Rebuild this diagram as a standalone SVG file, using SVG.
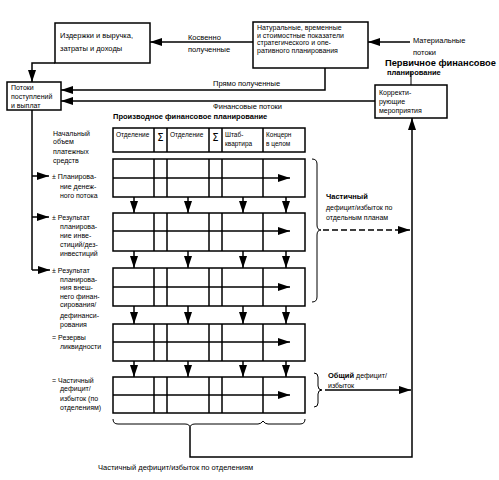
<svg xmlns="http://www.w3.org/2000/svg" width="499" height="480" viewBox="0 0 499 480">
<defs>
<marker id="ah" markerUnits="userSpaceOnUse" markerWidth="12" markerHeight="8" refX="12" refY="4" orient="auto"><path d="M0,0 L12,4 L0,8 z" fill="#000"/></marker>
<style>
.t{font-family:"Liberation Sans",Arial,sans-serif;font-size:7.5px;fill:#000}
.s{font-family:"Liberation Sans",Arial,sans-serif;font-size:7px;fill:#000}
.h{font-family:"Liberation Sans",Arial,sans-serif;font-size:6.5px;fill:#000}
.sg{font-family:"DejaVu Sans",sans-serif;font-size:10px;fill:#000;text-anchor:middle}
.b{font-family:"Liberation Sans",Arial,sans-serif;font-weight:bold;fill:#000}
.box{fill:#fff;stroke:#000;stroke-width:1.5}
.ln{fill:none;stroke:#000;stroke-width:1.5}
.th{fill:none;stroke:#000;stroke-width:1}
.ar{fill:none;stroke:#000;stroke-width:1.5;marker-end:url(#ah)}
</style>
</defs>
<rect width="499" height="480" fill="#fff"/>

<g id="connectors">
<path class="ar" d="M253,42 H150"/>
<path class="ar" d="M410,42 H368"/>
<path class="ar" d="M55,63 H32 V82"/>
<path class="ar" d="M325,68 V90 H61"/>
<path class="ar" d="M375,101 H61"/>
<path class="th" d="M411,72 V85"/>
<path class="ln" d="M32,110 V270"/>
<path class="ar" d="M32,176 H49"/>
<path class="ar" d="M32,217 H49"/>
<path class="ar" d="M32,270 H50"/>
<path class="th" d="M312,159 q5,0 5,5 V225 q0,5 4,5 q-4,0 -4,5 V297 q0,5 -5,5"/>
<path class="ar" d="M323,230 H410" stroke-dasharray="6,3"/>
<path class="th" d="M314,373 q4,0 4,4 V386 q0,4 4,4 q-4,0 -4,4 V403 q0,4 -4,4"/>
<path class="ar" d="M325,390 H411"/>
<path class="th" d="M113,419 q0,5 5,5 H185 q5,0 5,4 q0,-4 5,-4 H258 q3,0 5,-3 q2,3 5,3 H300 q5,0 5,-5"/>
<path class="ln" d="M190,428 V457 H412 V118" marker-end="url(#ah)"/>
</g>

<g id="n-izderzhki">
<rect class="box" x="55" y="23" width="95" height="40"/>
<text class="t" x="60" y="38">Издержки и выручка,</text>
<text class="t" x="60" y="51">затраты и доходы</text>
</g>

<g id="n-pokazateli">
<rect class="box" x="253" y="22" width="115" height="46"/>
<text class="s" x="257" y="30">Натуральные, временные</text>
<text class="s" x="257" y="37.5">и стоимостные показатели</text>
<text class="s" x="257" y="45">стратегического и опе-</text>
<text class="s" x="257" y="52.5">ративного планирования</text>
</g>

<g id="n-potoki">
<rect class="box" x="7" y="82" width="54" height="28"/>
<text class="s" x="11" y="90">Потоки</text>
<text class="s" x="11" y="99">поступлений</text>
<text class="s" x="11" y="108">и выплат</text>
</g>

<g id="n-korrekt">
<rect class="box" x="375" y="85" width="72" height="33"/>
<text class="s" x="379" y="95">Корректи-</text>
<text class="s" x="379" y="104">рующие</text>
<text class="s" x="379" y="113">мероприятия</text>
</g>

<g id="labels">
<text class="t" x="188" y="40">Косвенно</text>
<text class="t" x="188" y="52">полученные</text>
<text class="t" x="413" y="43">Материальные</text>
<text class="t" x="413" y="55">потоки</text>
<text class="b" x="385" y="66" font-size="9.3">Первичное финансовое</text>
<text class="b" x="387" y="74.5" font-size="7.5">планирование</text>
<text class="t" x="213" y="86">Прямо полученные</text>
<text class="t" x="213" y="109">Финансовые потоки</text>
<text class="b" x="113" y="119" font-size="7.5">Производное финансовое планирование</text>
</g>

<g id="n-table">
<rect class="box" x="113" y="128" width="192" height="24"/>
<path class="ln" d="M154,128 V152 M167,128 V152 M209,128 V152 M222,128 V152 M263,128 V152"/>
<text class="h" x="116" y="137">Отделение</text>
<text class="sg" x="160.5" y="141">Σ</text>
<text class="h" x="170" y="137">Отделение</text>
<text class="sg" x="215.5" y="141">Σ</text>
<text class="h" x="225" y="137">Штаб-</text>
<text class="h" x="225" y="146">квартира</text>
<text class="h" x="266" y="137">Концерн</text>
<text class="h" x="266" y="146">в целом</text>
</g>

<g id="n-rows">
<g id="row1">
<rect class="box" x="113" y="159" width="192" height="38"/>
<path class="ln" d="M154,159 V197 M167,159 V197 M209,159 V197 M222,159 V197 M263,159 V197"/>
<path class="ar" d="M113,178 H290"/>
</g>
<g id="row2">
<rect class="box" x="113" y="213" width="192" height="38"/>
<path class="ln" d="M154,213 V251 M167,213 V251 M209,213 V251 M222,213 V251 M263,213 V251"/>
<path class="ar" d="M113,231 H290"/>
</g>
<g id="row3">
<rect class="box" x="113" y="268" width="192" height="38"/>
<path class="ln" d="M154,268 V306 M167,268 V306 M209,268 V306 M222,268 V306 M263,268 V306"/>
<path class="ar" d="M113,287 H290"/>
</g>
<g id="row4">
<rect class="box" x="113" y="324" width="192" height="37"/>
<path class="ln" d="M154,324 V361 M167,324 V361 M209,324 V361 M222,324 V361 M263,324 V361"/>
<path class="ar" d="M113,342 H290"/>
</g>
<g id="row5">
<rect class="box" x="113" y="377" width="192" height="36"/>
<path class="ln" d="M154,377 V413 M167,377 V413 M209,377 V413 M222,377 V413 M263,377 V413"/>
<path class="ar" d="M113,395 H290"/>
</g>
<g id="down-arrows">
<path class="ar" d="M134,197 V213"/><path class="ar" d="M188,197 V213"/><path class="ar" d="M243,197 V213"/><path class="ar" d="M286,197 V213"/>
<path class="ar" d="M134,251 V268"/><path class="ar" d="M188,251 V268"/><path class="ar" d="M243,251 V268"/><path class="ar" d="M286,251 V268"/>
<path class="ar" d="M134,306 V324"/><path class="ar" d="M188,306 V324"/><path class="ar" d="M243,306 V324"/><path class="ar" d="M286,306 V324"/>
<path class="ar" d="M134,361 V377"/><path class="ar" d="M188,361 V377"/><path class="ar" d="M243,361 V377"/><path class="ar" d="M286,361 V377"/>
</g>
</g>

<g id="left-labels">
<text class="s" x="53" y="136">Начальный</text>
<text class="s" x="53" y="144">объем</text>
<text class="s" x="53" y="154">платежных</text>
<text class="s" x="53" y="163">средств</text>
<text class="s" x="52" y="179">± Планирова-</text>
<text class="s" x="60" y="189">ние денеж-</text>
<text class="s" x="60" y="198">ного потока</text>
<text class="s" x="52" y="220">± Результат</text>
<text class="s" x="60" y="229">планирова-</text>
<text class="s" x="60" y="238">ние инве-</text>
<text class="s" x="60" y="247">стиций/дез-</text>
<text class="s" x="60" y="256">инвестиций</text>
<text class="s" x="52" y="273">± Результат</text>
<text class="s" x="60" y="282">планирова-</text>
<text class="s" x="60" y="290">ния внеш-</text>
<text class="s" x="60" y="299">него финан-</text>
<text class="s" x="60" y="307">сирования/</text>
<text class="s" x="60" y="318">дефинанси-</text>
<text class="s" x="60" y="327">рования</text>
<text class="s" x="52" y="340">= Резервы</text>
<text class="s" x="60" y="349">ликвидности</text>
<text class="s" x="52" y="383">= Частичный</text>
<text class="s" x="60" y="391">дефицит/</text>
<text class="s" x="60" y="401">избыток (по</text>
<text class="s" x="60" y="410">отделениям)</text>
</g>

<g id="right-labels">
<text class="b" x="326" y="199" font-size="7.5">Частичный</text>
<text class="s" x="326" y="210">дефицит/избыток по</text>
<text class="s" x="326" y="220">отдельным планам</text>
<text class="b" x="328" y="378" font-size="7.5">Общий <tspan font-weight="normal" font-size="7">дефицит/</tspan></text>
<text class="s" x="328" y="388">избыток</text>
<text class="t" x="98" y="470" font-size="8.3">Частичный дефицит/избыток по отделениям</text>
</g>
</svg>
